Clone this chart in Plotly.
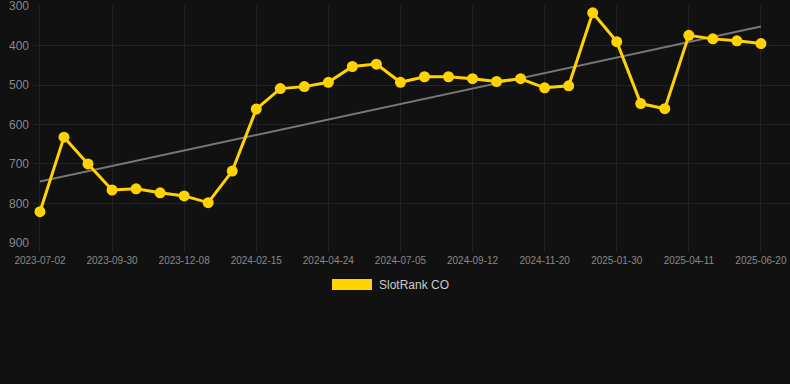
import numpy as np
import plotly.graph_objects as go

tick_labels = ["2023-07-02", "2023-09-30", "2023-12-08", "2024-02-15", "2024-04-24",
               "2024-07-05", "2024-09-12", "2024-11-20", "2025-01-30", "2025-04-11",
               "2025-06-20"]
ranks = [821, 632, 700, 766, 763, 773, 781, 798, 718, 561, 509, 504, 493, 453, 447,
         493, 479, 479, 484, 491, 484, 507, 502, 317, 390, 547, 560, 374, 383, 388, 395]
series_name = "SlotRank CO"
y_ticks = [300, 400, 500, 600, 700, 800, 900]

idx = np.arange(len(ranks))
slope, intercept = np.polyfit(idx, ranks, 1)
trend = slope * idx + intercept

BG = "#111111"
GOLD = "#FFD200"
GRID = "#222222"
FONT = "Liberation Sans, Arial, sans-serif"

PLOT_L, PLOT_R, PLOT_T, PLOT_B = 33, 790, 6, 243
PW, PH = PLOT_R - PLOT_L, PLOT_B - PLOT_T

def px_x(p):
    return (p - PLOT_L) / PW

def px_y(p):
    return (PLOT_B - p) / PH

fig = go.Figure()
fig.add_trace(go.Scatter(x=[idx[0], idx[-1]], y=[trend[0], trend[-1]], mode="lines",
                         line=dict(color="#777777", width=2), showlegend=False,
                         hoverinfo="skip"))
fig.add_trace(go.Scatter(x=idx, y=ranks, mode="lines+markers", name=series_name,
                         line=dict(color=GOLD, width=3),
                         marker=dict(color=GOLD, size=11), showlegend=False))

fig.update_layout(
    width=790, height=384,
    paper_bgcolor=BG, plot_bgcolor=BG,
    margin=dict(l=PLOT_L, r=790 - PLOT_R, t=PLOT_T, b=384 - PLOT_B),
    font=dict(family=FONT, color="#888888"),
    xaxis=dict(range=[-0.29, 31.21], tickmode="array",
               tickvals=list(range(0, len(ranks), 3)), ticktext=tick_labels,
               showgrid=True, gridcolor=GRID, gridwidth=1, zeroline=False,
               ticks="outside", ticklen=8, tickcolor=GRID,
               tickfont=dict(size=10, color="#888888", family=FONT)),
    yaxis=dict(range=[900.3, 299.7], tickmode="array", tickvals=y_ticks,
               showgrid=True, gridcolor=GRID, ticklabeloverflow="allow",
               gridwidth=1, zeroline=False, ticks="", ticklabelstandoff=3,
               tickfont=dict(size=12, color="#888888", family=FONT)),
    shapes=[dict(type="rect", xref="paper", yref="paper",
                 x0=px_x(332), x1=px_x(372), y0=px_y(290), y1=px_y(279),
                 fillcolor=GOLD, line=dict(width=0))],
    annotations=[dict(text=series_name, xref="paper", yref="paper",
                      x=px_x(377), y=px_y(284.5),
                      xanchor="left", yanchor="middle", showarrow=False,
                      font=dict(size=12, color="#CCCCCC", family=FONT))],
)

fig.write_html("out.html", config={"displayModeBar": False},
               post_script="document.body.style.margin='0';document.body.style.background='#111111';")
